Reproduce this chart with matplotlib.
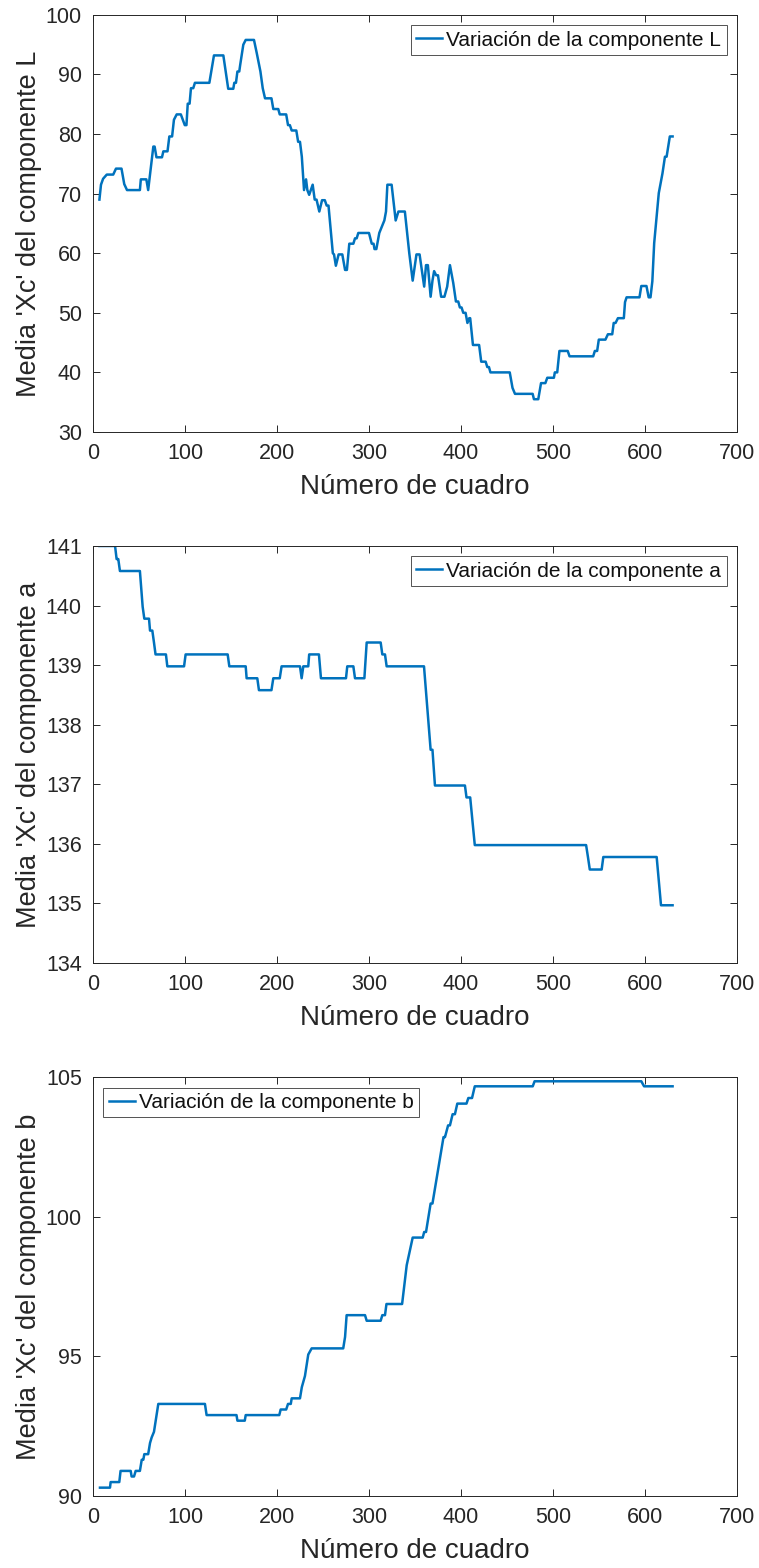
import matplotlib
matplotlib.use("Agg")
import matplotlib.pyplot as plt

# Componente L
frames_L = [7, 8.7, 11, 15, 22, 25, 31, 34, 37, 51, 52, 58, 60, 65.6, 67, 69, 75, 76.5, 81, 83,
            86, 88, 91, 95.5, 99.8, 101.6, 103, 105, 106.5, 109, 110.8, 126.5, 131.5, 141.7,
            143.5, 147, 152.5, 153.6, 155.4, 157, 159, 160, 163.4, 166, 175, 178, 182, 184.5,
            187, 194, 196, 201.4, 203, 210, 212, 214, 216, 221, 223, 225, 227, 229.4, 231.6,
            233, 235, 238.8, 241, 243, 246, 249, 252, 254, 256, 260.7, 262, 264, 267, 271, 274,
            276, 278.6, 283, 284.8, 286.6, 288.4, 300, 303, 305, 306, 308, 311.2, 313.8, 316.7,
            318.5, 320, 324.6, 329, 332, 339, 343.8, 347.5, 351.6, 355, 360, 362, 364, 367, 369,
            370.8, 373, 375, 378.4, 382, 385, 388, 391.6, 394.5, 397, 398.8, 400.6, 402.5, 405,
            407, 409, 410, 413, 419.7, 422, 426.8, 428.6, 430.4, 432, 453, 456, 458.7, 477.9,
            479.3, 484, 487, 491.7, 493.8, 501, 502, 504.6, 507, 516, 518, 543.7, 545.5, 548,
            549.8, 557, 559.7, 564.4, 566, 568, 570.6, 577, 578.3, 580, 594, 596, 601.6, 604,
            606, 608, 610, 615, 619, 621.7, 623.5, 627, 630]
media_L = [69.0, 71.5, 72.5, 73.2, 73.2, 74.2, 74.2, 71.6, 70.6, 70.6, 72.4, 72.4, 70.6, 77.9,
           77.9, 76.1, 76.1, 77.1, 77.1, 79.6, 79.6, 82.4, 83.3, 83.3, 81.5, 81.5, 85.1, 85.1,
           87.7, 87.7, 88.6, 88.6, 93.2, 93.2, 91.3, 87.6, 87.6, 88.6, 88.6, 90.5, 90.5, 91.6,
           95.0, 95.8, 95.8, 93.6, 90.5, 87.7, 86.0, 86.0, 84.2, 84.2, 83.3, 83.3, 81.5, 81.5,
           80.6, 80.6, 78.7, 78.7, 76.2, 70.6, 72.4, 70.6, 69.8, 71.5, 69.0, 69.0, 67.0, 68.9,
           68.9, 68.0, 68.0, 60.0, 59.8, 57.9, 59.8, 59.8, 57.2, 57.2, 61.6, 61.6, 62.5, 62.5,
           63.4, 63.4, 61.6, 61.6, 60.7, 60.7, 63.4, 64.4, 65.5, 67.0, 71.5, 71.5, 65.5, 67.0,
           67.0, 60.0, 55.4, 59.8, 59.8, 54.4, 58.0, 58.0, 52.7, 55.4, 57.0, 56.3, 56.3, 52.7,
           52.7, 54.4, 58.0, 55.0, 51.9, 51.9, 50.9, 50.9, 50.0, 50.0, 48.3, 49.1, 49.1, 44.6,
           44.6, 41.8, 41.8, 40.9, 40.9, 40.0, 40.0, 37.4, 36.4, 36.4, 35.5, 35.5, 38.2, 38.2,
           39.1, 39.1, 40.0, 40.0, 43.6, 43.6, 42.7, 42.7, 43.6, 43.6, 45.5, 45.5, 46.4, 46.4,
           48.3, 48.3, 49.1, 49.1, 51.8, 52.6, 52.6, 54.5, 54.5, 52.6, 52.6, 55.3, 61.7, 70.1,
           73.4, 76.2, 76.2, 79.6, 79.6]

# Componente a
frames_a = [7, 24, 25.7, 27.5, 29.3, 51, 54, 55.8, 60.9, 62, 64.5, 66.3, 68, 79.3, 80.8, 99,
            100.7, 146.4, 148.2, 166, 167, 178.6, 180.4, 194, 196, 203, 205, 225, 226.8, 228.6,
            234, 235, 245.6, 247.8, 275, 276.4, 283, 284.8, 295, 297.5, 312.7, 314.5, 317.4,
            319.2, 359.8, 367, 369, 371.7, 404.3, 406, 410, 415, 536, 538, 540, 552.9, 554.7,
            612.7, 617.4, 630]
media_a = [141.0, 141.0, 140.78, 140.78, 140.58, 140.58, 139.98, 139.78, 139.78, 139.58,
           139.58, 139.38, 139.18, 139.18, 138.98, 138.98, 139.18, 139.18, 138.98, 138.98,
           138.78, 138.78, 138.58, 138.58, 138.78, 138.78, 138.98, 138.98, 138.78, 138.98,
           138.98, 139.18, 139.18, 138.78, 138.78, 138.98, 138.98, 138.78, 138.78, 139.38,
           139.38, 139.18, 139.18, 138.98, 138.98, 137.58, 137.58, 136.98, 136.98, 136.78,
           136.78, 135.98, 135.98, 135.78, 135.57, 135.57, 135.78, 135.78, 134.97, 134.97]

# Componente b
frames_b = [7.6, 18.5, 19.2, 28.6, 30, 41, 42, 44.6, 46.4, 51, 53, 54.7, 55.8, 60, 62, 63.8,
            66.3, 71, 121.7, 123.5, 156, 157, 165, 166, 202.5, 204, 210, 212, 215, 216, 225,
            227, 230.4, 234, 237.7, 272, 274, 275.7, 295.7, 297.5, 312.7, 314.5, 317.4, 319,
            336, 341, 347.5, 358.4, 360, 362, 367, 369, 381, 382.6, 386, 388, 390.9, 393.4, 396,
            406, 408, 412, 415, 478, 480, 596, 599, 630]
media_b = [90.3, 90.3, 90.5, 90.5, 90.9, 90.9, 90.7, 90.7, 90.9, 90.9, 91.3, 91.3, 91.5, 91.5,
           91.9, 92.1, 92.3, 93.3, 93.3, 92.9, 92.9, 92.7, 92.7, 92.9, 92.9, 93.1, 93.1, 93.3,
           93.3, 93.5, 93.5, 93.9, 94.3, 95.07, 95.29, 95.29, 95.7, 96.48, 96.48, 96.28, 96.28,
           96.48, 96.48, 96.88, 96.88, 98.27, 99.26, 99.26, 99.46, 99.46, 100.48, 100.48,
           102.86, 102.86, 103.28, 103.28, 103.68, 103.68, 104.06, 104.06, 104.26, 104.26,
           104.68, 104.68, 104.86, 104.86, 104.68, 104.68]

x_ticks = [0, 100, 200, 300, 400, 500, 600, 700]
ticks_L = [30, 40, 50, 60, 70, 80, 90, 100]
ticks_a = [134, 135, 136, 137, 138, 139, 140, 141]
ticks_b = [90, 95, 100, 105]

plt.rcParams['font.family'] = ['Liberation Sans', 'DejaVu Sans']
blue = '#0072BD'
dark = '#262626'

fig = plt.figure(figsize=(7.59, 15.68), dpi=100)
positions = [[0.1225, 0.7245, 0.8485, 0.266],
             [0.1225, 0.3858, 0.8485, 0.266],
             [0.1225, 0.0459, 0.8485, 0.267]]
panels = [
    (frames_L, media_L, ticks_L, "Media 'Xc' del componente L", 'Variación de la componente L', 'upper right'),
    (frames_a, media_a, ticks_a, "Media 'Xc' del componente a", 'Variación de la componente a', 'upper right'),
    (frames_b, media_b, ticks_b, "Media 'Xc' del componente b", 'Variación de la componente b', 'upper left'),
]

for pos, (fx, fy, yt, ylab, leg, loc) in zip(positions, panels):
    ax = fig.add_axes(pos)
    ax.plot(fx, fy, color=blue, lw=1.8, label=leg)
    ax.set_xlim(0, 700)
    ax.set_ylim(yt[0], yt[-1])
    ax.set_xticks(x_ticks)
    ax.set_yticks(yt)
    ax.tick_params(direction='in', length=5, width=0.7, color=dark, labelcolor=dark,
                   top=True, right=True, labelsize=15.5)
    ax.tick_params(axis='x', pad=8)
    ax.tick_params(axis='y', pad=8)
    for s in ax.spines.values():
        s.set_color(dark)
        s.set_linewidth(0.7)
    ax.set_xlabel('Número de cuadro', fontsize=20, color=dark, labelpad=7)
    ax.set_ylabel(ylab, fontsize=19.5, color=dark, labelpad=3)
    lg = ax.legend(loc=loc, fontsize=15, frameon=True, fancybox=False, handlelength=1.25,
                   handletextpad=0.2, borderpad=0.25, borderaxespad=0.5)
    lg.get_frame().set_edgecolor(dark)
    lg.get_frame().set_linewidth(0.7)
    for t in lg.get_texts():
        t.set_color('#111111')

fig.savefig('out.png', dpi=100)
